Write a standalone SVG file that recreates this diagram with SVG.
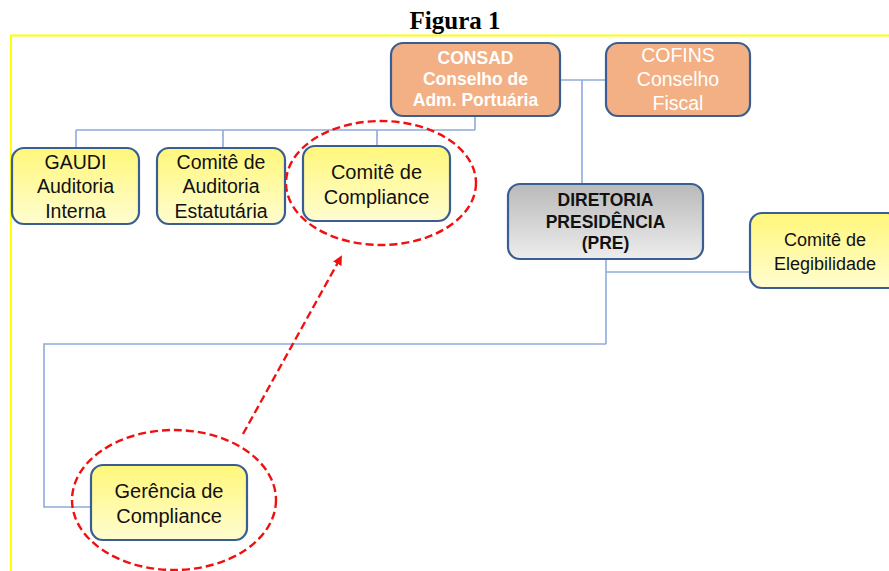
<svg xmlns="http://www.w3.org/2000/svg" width="889" height="571" viewBox="0 0 889 571">
<style>
.t{font-family:"Liberation Sans",Arial,sans-serif;text-anchor:middle;}
.box{stroke:#3A5E92;stroke-width:2.2;}
.y{fill:url(#gy);}
.o{fill:#F2B084;}
.c{fill:none;stroke:#8FAADC;stroke-width:1.6;}
.r{fill:none;stroke:#F01010;stroke-width:2.4;stroke-dasharray:8 4;}
</style>
<defs>
<linearGradient id="gy" x1="0" y1="0" x2="0" y2="1"><stop offset="0" stop-color="#FFF77A"/><stop offset="1" stop-color="#FFFDD0"/></linearGradient>
<linearGradient id="gg" x1="0" y1="0" x2="0" y2="1"><stop offset="0" stop-color="#B9B9B9"/><stop offset="1" stop-color="#EDEDED"/></linearGradient>
<marker id="ah" viewBox="0 0 10 10" refX="8" refY="5" markerWidth="4" markerHeight="4" orient="auto"><path d="M0,0 L10,5 L0,10 z" fill="#F01010"/></marker>
</defs>
<rect width="889" height="571" fill="#fff"/>
<text x="455" y="29" font-family="Liberation Serif,Times New Roman,serif" font-weight="bold" font-size="25" text-anchor="middle">Figura 1</text>
<path d="M11,571 V35.5 H889" fill="none" stroke="#FFFF00" stroke-width="2"/>
<g id="connectors">
<path class="c" d="M475,116 V130 M76,130 H475 M76,130 V148 M223,130 V148 M377,130 V146"/>
<path class="c" d="M560,80 H606 M582,80 V184"/>
<path class="c" d="M606,259 V344 M606,272 H750 M606,344 H44 V507 H91"/>
</g>
<g id="consad"><rect class="box o" x="391" y="43" width="169" height="73" rx="12"/>
<text class="t" fill="#fff" font-weight="bold" font-size="17.5"><tspan x="475.5" y="64">CONSAD</tspan><tspan x="475.5" y="85">Conselho de</tspan><tspan x="475.5" y="106">Adm. Portuária</tspan></text></g>
<g id="cofins"><rect class="box o" x="606" y="43" width="144" height="73" rx="12"/>
<text class="t" fill="#fff" font-size="19.5"><tspan x="678" y="62">COFINS</tspan><tspan x="678" y="86">Conselho</tspan><tspan x="678" y="110">Fiscal</tspan></text></g>
<g id="gaudi"><rect class="box y" x="12" y="148" width="127" height="76" rx="12"/>
<text class="t" fill="#111" font-size="19.5"><tspan x="75.5" y="169">GAUDI</tspan><tspan x="75.5" y="193">Auditoria</tspan><tspan x="75.5" y="218">Interna</tspan></text></g>
<g id="auditoria"><rect class="box y" x="157" y="148" width="128" height="76" rx="12"/>
<text class="t" fill="#111" font-size="19.5"><tspan x="221" y="169">Comitê de</tspan><tspan x="221" y="193">Auditoria</tspan><tspan x="221" y="218">Estatutária</tspan></text></g>
<g id="compliance"><rect class="box y" x="303" y="146" width="147" height="75" rx="12"/>
<text class="t" fill="#111" font-size="20"><tspan x="376.5" y="179">Comitê de</tspan><tspan x="376.5" y="204">Compliance</tspan></text></g>
<g id="diretoria"><rect class="box" fill="url(#gg)" x="508" y="184" width="195" height="75" rx="12"/>
<text class="t" fill="#111" font-weight="bold" font-size="17.5"><tspan x="605.5" y="206">DIRETORIA</tspan><tspan x="605.5" y="228">PRESIDÊNCIA</tspan><tspan x="605.5" y="249">(PRE)</tspan></text></g>
<g id="elegibilidade"><rect class="box y" x="750" y="213" width="150" height="75" rx="12"/>
<text class="t" fill="#111" font-size="18"><tspan x="825" y="246">Comitê de</tspan><tspan x="825" y="270">Elegibilidade</tspan></text></g>
<g id="gerencia"><rect class="box y" x="91" y="465" width="156" height="75" rx="12"/>
<text class="t" fill="#111" font-size="20"><tspan x="169" y="498">Gerência de</tspan><tspan x="169" y="523">Compliance</tspan></text></g>
<g id="highlight">
<ellipse class="r" cx="381" cy="183" rx="95" ry="62"/>
<ellipse class="r" cx="174" cy="500" rx="102" ry="70"/>
<path class="r" d="M243,434 L341,257" marker-end="url(#ah)"/>
</g>
</svg>
